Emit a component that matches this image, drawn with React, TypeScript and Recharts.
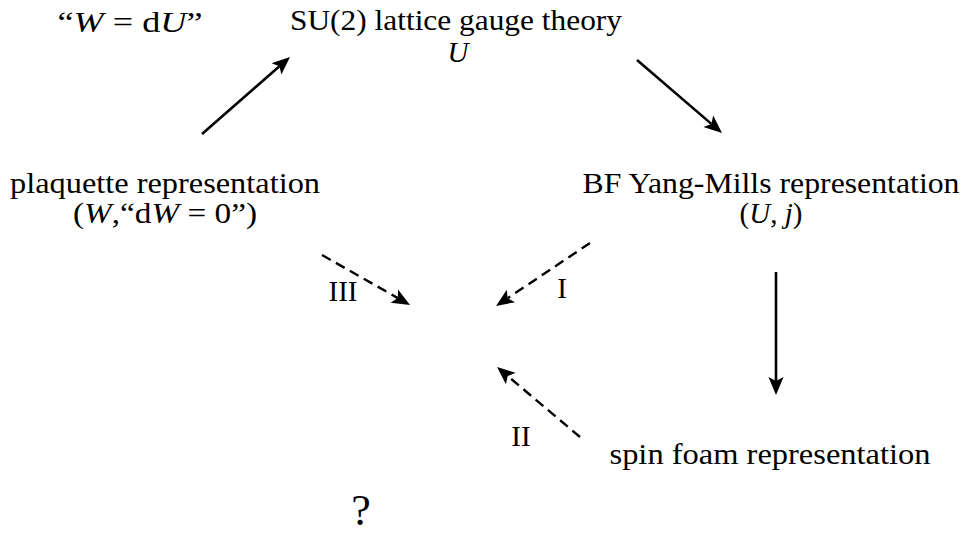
import React from 'react';
import { ScatterChart, Scatter, XAxis, YAxis, ReferenceLine } from 'recharts';

// Label anchors (diagram coordinates) and their texts (*...* = italic)
const labelX = [130, 456, 458, 165, 165, 771, 771, 343, 562, 521, 770, 361];
const labelY = [32, 30, 62, 193, 223, 193, 223, 301, 298, 446, 464, 525];
const labelText = [
  '“*W* = d*U*”',
  'SU(2) lattice gauge theory',
  '*U*',
  'plaquette representation',
  '(*W*,“d*W* = 0”)',
  'BF Yang-Mills representation',
  '(*U*, *j*)',
  'III',
  'I',
  'II',
  'spin foam representation',
  '?',
];

// Arrows: start and end points, and whether dashed
const arrowFromX = [202, 637, 776, 322, 590, 580];
const arrowFromY = [134, 60, 272, 255, 243, 437];
const arrowToX = [290, 722, 776, 410, 496, 497];
const arrowToY = [57, 133, 395, 305, 306, 367];
const arrowDashed = [false, false, false, true, true, true];

const labels = labelText.map((t, i) => ({ x: labelX[i], y: labelY[i], text: t, idx: i }));
const arrows = arrowFromX.map((x, i) => ({
  from: { x, y: arrowFromY[i] },
  to: { x: arrowToX[i], y: arrowToY[i] },
  dashed: arrowDashed[i],
}));

// style
const W = 962;
const H = 537;
const FONT = "'Liberation Serif', 'Times New Roman', serif";
const fitWidths: Record<number, number> = { 0: 145, 1: 332, 3: 310, 4: 184, 5: 377, 10: 321 };
const fontSizes: Record<number, number> = { 11: 44 };

function renderRich(text: string) {
  const parts = text.split('*');
  return parts.map((p, i) =>
    p === '' ? null : (
      <tspan key={i} style={{ fontStyle: i % 2 === 1 ? 'italic' : 'normal' }}>
        {p}
      </tspan>
    )
  );
}

const LabelShape = (props: any) => {
  const { cx, cy, payload } = props;
  const idx = payload.idx;
  const extra: any = {};
  if (fitWidths[idx]) {
    extra.textLength = fitWidths[idx];
    extra.lengthAdjust = 'spacingAndGlyphs';
  }
  return (
    <text
      x={cx}
      y={cy}
      textAnchor="middle"
      style={{ fontFamily: FONT, fontSize: fontSizes[idx] ?? 29 }}
      fill="#000"
      {...extra}
    >
      {renderRich(payload.text)}
    </text>
  );
};

const makeArrowShape = (dashed: boolean) => (props: any) => {
  const { x1, y1, x2, y2 } = props;
  const dx = x2 - x1;
  const dy = y2 - y1;
  const len = Math.sqrt(dx * dx + dy * dy) || 1;
  const ux = dx / len;
  const uy = dy / len;
  const L = 18;
  const hw = 7.5;
  const bx = x2 - ux * L;
  const by = y2 - uy * L;
  const nx = bx + ux * 4;
  const ny = by + uy * 4;
  const lx = bx - uy * hw;
  const ly = by + ux * hw;
  const rx = bx + uy * hw;
  const ry = by - ux * hw;
  return (
    <g>
      <line
        x1={x1}
        y1={y1}
        x2={nx}
        y2={ny}
        stroke="#000"
        strokeWidth={dashed ? 2.4 : 2.6}
        strokeDasharray={dashed ? '10 6' : undefined}
      />
      <polygon points={`${x2},${y2} ${lx},${ly} ${nx},${ny} ${rx},${ry}`} fill="#000" />
    </g>
  );
};

export default function App() {
  return (
    <div style={{ position: 'absolute', left: 0, top: 0, width: W, height: H, background: '#fff' }}>
      <ScatterChart width={W} height={H} margin={{ top: 0, right: 0, bottom: 0, left: 0 }}>
        <XAxis type="number" dataKey="x" domain={[0, W]} hide allowDataOverflow />
        <YAxis type="number" dataKey="y" domain={[0, H]} reversed hide allowDataOverflow />
        {arrows.map((a, i) => (
          <ReferenceLine
            key={i}
            segment={[a.from, a.to]}
            ifOverflow="visible"
            shape={makeArrowShape(a.dashed)}
          />
        ))}
        <Scatter data={labels} shape={LabelShape} isAnimationActive={false} />
      </ScatterChart>
    </div>
  );
}
